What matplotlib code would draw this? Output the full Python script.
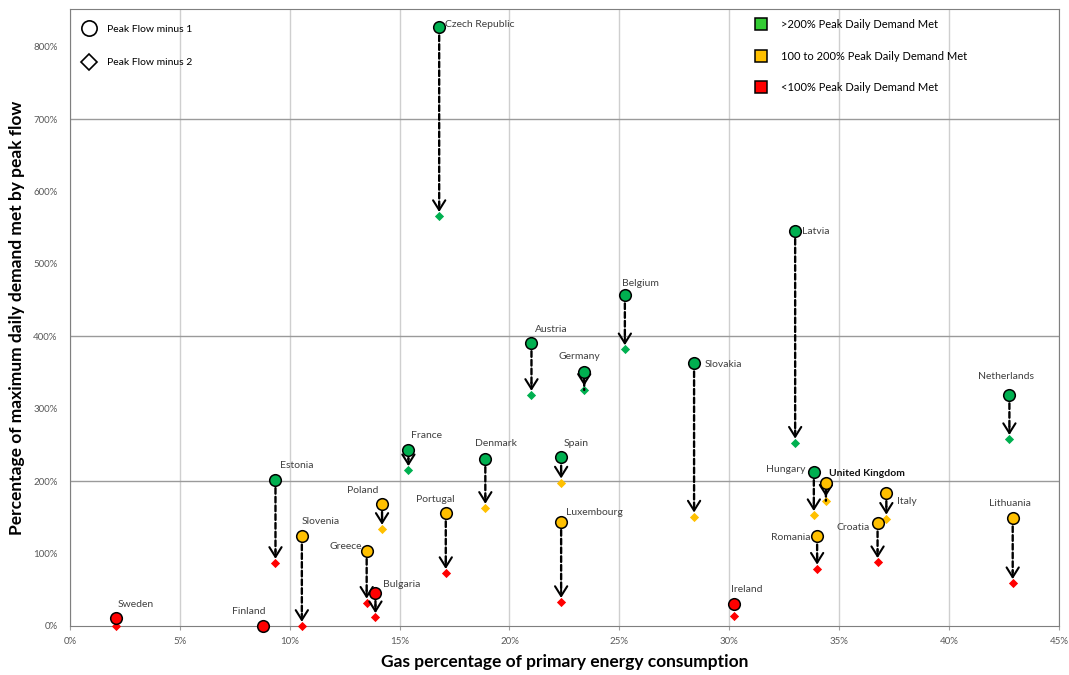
"""Peak flow coverage vs gas share of primary energy, by country."""
import matplotlib
matplotlib.use("Agg")
import matplotlib.pyplot as plt
from matplotlib.lines import Line2D

plt.rcParams["font.family"] = ["Lato", "DejaVu Sans"]

countries = ["Czech Republic", "Latvia", "Belgium", "Austria", "Germany", "Slovakia",
             "Netherlands", "France", "Denmark", "Spain", "Estonia", "Poland", "Portugal",
             "Luxembourg", "Slovenia", "Greece", "Bulgaria", "Sweden", "Finland", "Ireland",
             "Hungary", "United Kingdom", "Romania", "Italy", "Croatia", "Lithuania"]
gas_share = [16.8, 33.0, 25.25, 21.0, 23.4, 28.4,
             42.75, 15.4, 18.9, 22.35, 9.35, 14.2, 17.1,
             22.35, 10.55, 13.5, 13.9, 2.1, 8.8, 30.2,
             33.85, 34.4, 34.0, 37.15, 36.75, 42.9]
flow_minus1 = [827, 546, 457, 391, 351, 363,
               319, 243, 231, 233, 202, 169, 156,
               144, 124, 104, 46, 11, 0, 30,
               213, 198, 124, 184, 142, 149]
flow_minus2 = [566, 253, 382, 319, 326, 151,
               258, 215, 163, 198, 87, 134, 73,
               33, 0, 32, 12, 0, 0, 14,
               153, 173, 79, 148, 88, 59]
no_arrow = ["Sweden", "Finland", "Ireland"]

# label placement relative to the circle: (dx px, dy px, ha)
label_pos = {
    "Czech Republic": (6, 3, "left"), "Latvia": (7, -1, "left"), "Belgium": (-3, 12, "left"),
    "Austria": (3, 13, "left"), "Germany": (-5, 15, "center"), "Slovakia": (11, -1, "left"),
    "Netherlands": (-3, 19, "center"), "France": (3, 15, "left"), "Denmark": (-10, 15, "left"),
    "Spain": (2, 14, "left"), "Estonia": (5, 14, "left"), "Poland": (-4, 13, "right"),
    "Portugal": (-10, 14, "center"), "Luxembourg": (5, 9, "left"), "Slovenia": (0, 15, "left"),
    "Greece": (-5, 4, "right"), "Bulgaria": (8, 8, "left"), "Sweden": (1, 14, "left"),
    "Finland": (2, 14, "right"), "Ireland": (-3, 15, "left"), "Hungary": (-8, 2, "right"),
    "United Kingdom": (3, 9, "left"), "Romania": (-7, -1, "right"), "Italy": (11, -9, "left"),
    "Croatia": (-8, -4, "right"), "Lithuania": (-3, 15, "center"),
}

GREEN, YELLOW, RED = "#00B050", "#FFC000", "#FF0000"


def band_colour(v):
    if v > 200:
        return GREEN
    if v >= 100:
        return YELLOW
    return RED


fig = plt.figure(figsize=(10.69, 6.75), dpi=100)
ax = fig.add_axes([0.0655, 0.0726, 0.925, 0.914])
ax.set_xlim(0, 45)
ax.set_ylim(0, 852)

ax.set_xticks(range(0, 46, 5))
ax.set_xticklabels([f"{v}%" for v in range(0, 46, 5)])
ax.set_yticks(range(0, 801, 100))
ax.set_yticklabels([f"{v}%" for v in range(0, 801, 100)])
ax.tick_params(axis="both", labelsize=7, colors="#595959", length=0, pad=9)
ax.tick_params(axis="x", length=3, color="#a0a0a0", pad=5)
ax.grid(axis="x", color="#cfcfcf", lw=1)
for v in [200, 400, 700]:
    ax.axhline(v, color="#9a9a9a", lw=1, zorder=1)
ax.set_axisbelow(True)
for s in ax.spines.values():
    s.set_color("#7f7f7f")

for i, name in enumerate(countries):
    x, y1, y2 = gas_share[i], flow_minus1[i], flow_minus2[i]
    ax.scatter(x, y2, marker="D", s=22, color=band_colour(y2), lw=0, zorder=3,
               clip_on=False)
    ax.scatter(x, y1, marker="o", s=70, color=band_colour(y1), edgecolor="black",
               lw=1.1, zorder=5, clip_on=False)
    if name not in no_arrow:
        ax.annotate("", xy=(x, y2), xytext=(x, y1),
                    arrowprops=dict(arrowstyle="-", ls=(0, (2.4, 1.3)), lw=1.7,
                                    color="black", shrinkA=6, shrinkB=8))
        ax.annotate("", xy=(x, y2), xytext=(0, 9), textcoords="offset points",
                    arrowprops=dict(arrowstyle="->,head_length=0.35,head_width=0.22",
                                    lw=1.5, color="black", shrinkA=0, shrinkB=3,
                                    mutation_scale=20), zorder=4)
    dx, dy, ha = label_pos[name]
    ax.annotate(name, xy=(x, y1), xytext=(dx * 0.72, dy * 0.72),
                textcoords="offset points", ha=ha, va="center", fontsize=7.5,
                color="#111111" if name == "United Kingdom" else "#404040",
                fontweight="bold" if name == "United Kingdom" else "normal", zorder=6)

ax.set_xlabel("Gas percentage of primary energy consumption", fontsize=12.5,
              fontweight="bold", labelpad=6)
ax.set_ylabel("Percentage of maximum daily demand met by peak flow", fontsize=12.5,
              fontweight="bold", labelpad=6)

shape_handles = [
    Line2D([], [], ls="", marker="o", ms=11, mfc="white", mec="black", mew=1.2),
    Line2D([], [], ls="", marker="D", ms=8, mfc="white", mec="black", mew=1.2),
]
leg1 = ax.legend(shape_handles, ["Peak Flow minus 1", "Peak Flow minus 2"],
                 loc="upper left", bbox_to_anchor=(-0.004, 0.995), frameon=False,
                 fontsize=7.5, labelspacing=2.3, handletextpad=0.7, borderaxespad=0.8)
ax.add_artist(leg1)

band_handles = [Line2D([], [], ls="", marker="s", ms=9, mfc=c, mec="black", mew=1.1)
                for c in ["#33CC33", YELLOW, RED]]
ax.legend(band_handles, [">200% Peak Daily Demand Met", "100 to 200% Peak Daily Demand Met",
                         "<100% Peak Daily Demand Met"],
          loc="upper left", bbox_to_anchor=(0.677, 1.0), frameon=False,
          fontsize=8, labelspacing=1.85, handletextpad=0.8, borderaxespad=0.5)

fig.savefig("out.png", dpi=100)
plt.close(fig)
